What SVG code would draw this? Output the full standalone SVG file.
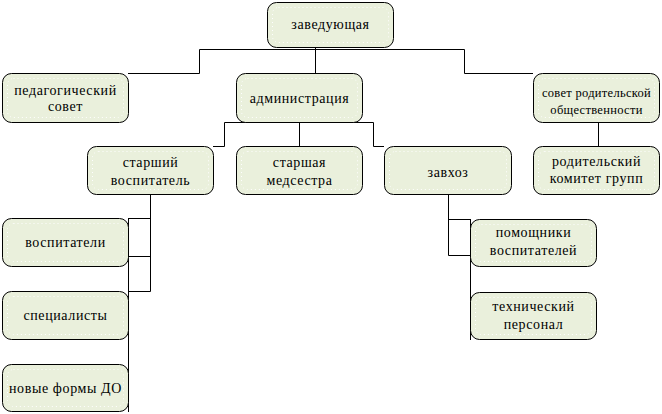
<svg xmlns="http://www.w3.org/2000/svg" width="662" height="414" viewBox="0 0 662 414">
<style>
.box{fill:#EAF0DC;stroke:#000;stroke-width:1}
.in{fill:none;stroke:#fff;stroke-width:1;stroke-dasharray:1 3}
.c{fill:none;stroke:#000;stroke-width:1}
.t{font-size:14px;letter-spacing:0.6px;text-anchor:middle;fill:#000}
.s{font-size:12.5px;letter-spacing:0.3px}
</style>
<rect width="662" height="414" fill="#fff"/>
<g id="connectors">
<path class="c" d="M128,73.5 H199.5 V49.5 H464.5 V73.5 H533"/>
<path class="c" d="M315.5,47 V73"/>
<path class="c" d="M213,146.5 H224.5 V122.5 H373.5 V146.5 H384"/>
<path class="c" d="M299.5,122 V146"/>
<path class="c" d="M598.5,122 V146"/>
<path class="c" d="M150.5,194 V291.5 H128"/>
<path class="c" d="M128,218.5 H150.5 M128,256.5 H150.5"/>
<path class="c" d="M128.5,218 V412"/>
<path class="c" d="M448.5,194 V255.5 H470 M448.5,219.5 H470"/>
<path class="c" d="M470.5,219 V340"/>
</g>
<g class="t" font-family="Liberation Serif, Times New Roman, serif">
<g id="n-zav"><rect class="box" x="267.5" y="2.5" width="126" height="45" rx="9"/><rect class="in" x="272.5" y="7.5" width="116" height="35" rx="6"/><text x="330.5" y="29">заведующая</text></g>
<g id="n-ped"><rect class="box" x="2.5" y="73.5" width="126" height="49" rx="9"/><rect class="in" x="7.5" y="78.5" width="116" height="39" rx="6"/><text x="65.5" y="95">педагогический</text><text x="65.5" y="111">совет</text></g>
<g id="n-adm"><rect class="box" x="236.5" y="73.5" width="126" height="49" rx="9"/><rect class="in" x="241.5" y="78.5" width="116" height="39" rx="6"/><text x="299.5" y="103">администрация</text></g>
<g id="n-sov"><rect class="box" x="533.5" y="73.5" width="126" height="49" rx="9"/><rect class="in" x="538.5" y="78.5" width="116" height="39" rx="6"/><text class="s" x="596.5" y="97">совет родительской</text><text class="s" x="596.5" y="114">общественности</text></g>
<g id="n-stv"><rect class="box" x="87.5" y="146.5" width="126" height="48" rx="9"/><rect class="in" x="92.5" y="151.5" width="116" height="38" rx="6"/><text x="150.5" y="167">старший</text><text x="150.5" y="185">воспитатель</text></g>
<g id="n-med"><rect class="box" x="236.5" y="146.5" width="126" height="48" rx="9"/><rect class="in" x="241.5" y="151.5" width="116" height="38" rx="6"/><text x="299.5" y="167">старшая</text><text x="299.5" y="185">медсестра</text></g>
<g id="n-zavhoz"><rect class="box" x="384.5" y="146.5" width="127" height="48" rx="9"/><rect class="in" x="389.5" y="151.5" width="117" height="38" rx="6"/><text x="448" y="177">завхоз</text></g>
<g id="n-kom"><rect class="box" x="533.5" y="146.5" width="126" height="48" rx="9"/><rect class="in" x="538.5" y="151.5" width="116" height="38" rx="6"/><text x="596.5" y="166">родительский</text><text x="596.5" y="183">комитет групп</text></g>
<g id="n-vosp"><rect class="box" x="2.5" y="218.5" width="126" height="48" rx="9"/><rect class="in" x="7.5" y="223.5" width="116" height="38" rx="6"/><text x="65.5" y="247">воспитатели</text></g>
<g id="n-spec"><rect class="box" x="2.5" y="291.5" width="126" height="48" rx="9"/><rect class="in" x="7.5" y="296.5" width="116" height="38" rx="6"/><text x="65.5" y="320">специалисты</text></g>
<g id="n-nov"><rect class="box" x="2.5" y="364.5" width="126" height="47" rx="9"/><rect class="in" x="7.5" y="369.5" width="116" height="37" rx="6"/><text x="65.5" y="393">новые формы ДО</text></g>
<g id="n-pom"><rect class="box" x="470.5" y="219.5" width="126" height="47" rx="9"/><rect class="in" x="475.5" y="224.5" width="116" height="37" rx="6"/><text x="533.5" y="237">помощники</text><text x="533.5" y="255">воспитателей</text></g>
<g id="n-teh"><rect class="box" x="470.5" y="292.5" width="126" height="47" rx="9"/><rect class="in" x="475.5" y="297.5" width="116" height="37" rx="6"/><text x="533.5" y="311">технический</text><text x="533.5" y="329">персонал</text></g>
</g>
</svg>
